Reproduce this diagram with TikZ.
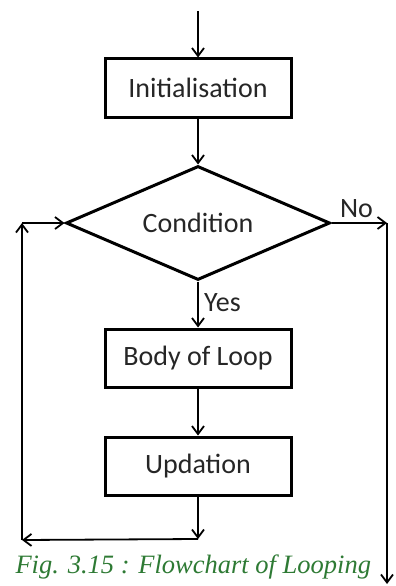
\documentclass[tikz,border=0pt]{standalone}
\usepackage{fontspec}
\setmainfont{Liberation Serif}
\newfontfamily\boxfont{Carlito}
\usetikzlibrary{arrows.meta,shapes.geometric}
\definecolor{capgreen}{RGB}{46,122,52}

\begin{document}
\begin{tikzpicture}[x=1pt,y=-1pt,font=\boxfont\fontsize{28}{32}\selectfont,
  >={Straight Barb[length=8pt,width=12pt,line width=1.8pt]},
  blk/.style={draw,line width=3pt,minimum width=186pt,minimum height=58pt,text=black!85},
  flow/.style={->,line width=1.8pt}]
 \useasboundingbox (0,0) rectangle (396,586);
 \coordinate (start) at (198,11);
 \foreach \n/\y/\t in {init/88/Initialisation,body/358/Body of Loop,upd/466/Updation}
   {\node[blk] (\n) at (198,\y) {\t};}
 \node[draw,diamond,aspect=2.3,line width=3pt,minimum width=264pt,minimum height=114pt,inner sep=0pt,text=black!85] (cond) at (198,223) {Condition};
 \coordinate (join) at (198,539); \coordinate (bl) at (22,540); \coordinate (tl) at (22,223);
 \coordinate (tr) at (387,223); \coordinate (stop) at (387,584);
 \draw[flow] (start) -- (init.north);
 \draw[flow] (init.south) -- (cond.north);
 \draw[flow] (cond.south) -- node[right,pos=0.45,xshift=2pt,text=black!85]{Yes} (body.north);
 \draw[flow] (body.south) -- (upd.north);
 \draw[flow] (upd.south) -- (join);
 \draw[flow] (join) -- (bl); \draw[flow] (bl) -- (tl); \draw[flow] (tl) -- (cond.west);
 \draw[flow] (cond.east) -- node[above,pos=0.45,yshift=1pt,text=black!85]{No} (tr);
 \draw[flow] (tr) -- (stop);
 \node[anchor=base west,font=\itshape\fontsize{26.5}{30}\selectfont,text=capgreen] (cap) at (12,573) {Fig. 3.15 : Flowchart of Looping};
\end{tikzpicture}
\end{document}
